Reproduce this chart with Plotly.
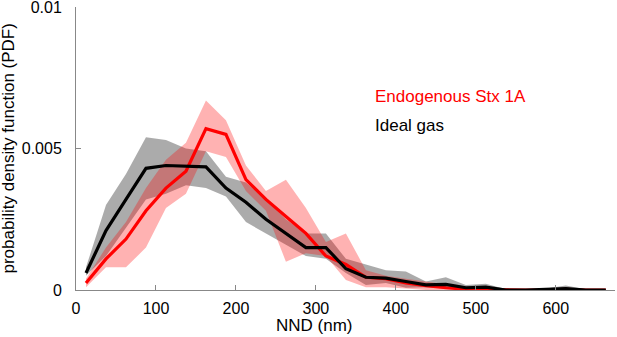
import plotly.graph_objects as go

nnd = [12.5 + 25 * i for i in range(27)]

gas_mean = [0.0006, 0.0021, 0.0032, 0.0043, 0.0044, 0.00437, 0.00435, 0.0036, 0.0031, 0.0025, 0.0020,
            0.0015, 0.0015, 0.00075, 0.00045, 0.00042, 0.0003, 0.00018, 0.0002, 0.00008, 0.0001,
            0.0, 0.0, 0.00002, 0.00005, 0.0, 0.0]
gas_upper = [0.0008, 0.0030, 0.0041, 0.0054, 0.0053, 0.0050, 0.0049, 0.0040, 0.0038, 0.0032, 0.0025,
             0.0020, 0.0020, 0.0011, 0.0009, 0.0007, 0.00065, 0.0003, 0.00045, 0.00018, 0.00022,
             0.00003, 0.00003, 0.00005, 0.00016, 0.00003, 0.00002]
gas_lower = [0.0005, 0.0012, 0.0022, 0.0032, 0.0034, 0.0037, 0.0036, 0.0033, 0.0024, 0.0020, 0.0016,
             0.0012, 0.0011, 0.0006, 0.00018, 0.00025, 0.00008, 0.0001, 0.00005, 0.0, 0.0,
             0.0, 0.0, 0.0, 0.0, 0.0, 0.0]

stx_mean = [0.00025, 0.0011, 0.0018, 0.0028, 0.0036, 0.0042, 0.0057, 0.0055, 0.0039, 0.0032, 0.0026,
            0.0020, 0.0012, 0.0009, 0.00045, 0.0004, 0.00025, 0.00015, 0.00008, 0.00003, 0.00002,
            0.0, 0.0, 0.0, 0.00002, 0.0, 0.0]
stx_upper = [0.0004, 0.0015, 0.0024, 0.0036, 0.0046, 0.0052, 0.0067, 0.0060, 0.0044, 0.0035, 0.0039,
             0.0029, 0.0017, 0.0020, 0.0007, 0.0005, 0.0004, 0.0003, 0.0002, 0.0001, 0.00008,
             0.00002, 0.00002, 0.00002, 0.00006, 0.00001, 0.00001]
stx_lower = [0.0001, 0.0008, 0.0008, 0.0015, 0.0029, 0.0034, 0.0049, 0.0047, 0.0035, 0.0028, 0.0010,
             0.0013, 0.0012, 0.00035, 0.0001, 0.0001, 0.00005, 0.0, 0.0, 0.0, 0.0,
             0.0, 0.0, 0.0, 0.0, 0.0, 0.0]

series_names = ["Endogenous Stx 1A", "Ideal gas"]
x_ticks = [0, 100, 200, 300, 400, 500, 600]
y_ticks = [0, 0.005, 0.01]
y_tick_labels = ["0", "0.005", "0.01"]
x_title = "NND (nm)"
y_title = "probability density function (PDF)"

fig = go.Figure()

# bands
fig.add_trace(go.Scatter(x=nnd + nnd[::-1], y=gas_upper + gas_lower[::-1], fill="toself",
                         fillcolor="rgba(0,0,0,0.33)", line=dict(width=0), mode="lines",
                         hoverinfo="skip", showlegend=False))
fig.add_trace(go.Scatter(x=nnd + nnd[::-1], y=stx_upper + stx_lower[::-1], fill="toself",
                         fillcolor="rgba(255,0,0,0.3)", line=dict(width=0), mode="lines",
                         hoverinfo="skip", showlegend=False))
# lines
fig.add_trace(go.Scatter(x=nnd, y=stx_mean, mode="lines", line=dict(color="#ff0000", width=3.2),
                         name=series_names[0], showlegend=False))
fig.add_trace(go.Scatter(x=nnd, y=gas_mean, mode="lines", line=dict(color="#000000", width=3.2),
                         name=series_names[1], showlegend=False))

fig.update_layout(
    width=617, height=337,
    margin=dict(l=76, r=2, t=7, b=47),
    paper_bgcolor="white", plot_bgcolor="white",
    font=dict(family="Liberation Sans, Arial, sans-serif", size=16, color="black"),
    annotations=[
        dict(x=0.551, y=0.683, xref="paper", yref="paper", text=series_names[0], showarrow=False,
             xanchor="left", yanchor="middle", font=dict(color="#ff0000", size=17)),
        dict(x=0.551, y=0.581, xref="paper", yref="paper", text=series_names[1], showarrow=False,
             xanchor="left", yanchor="middle", font=dict(color="#000000", size=17)),
        dict(x=0.4434, y=-0.127, xref="paper", yref="paper", text=x_title, showarrow=False,
             xanchor="center", yanchor="middle", font=dict(size=17)),
        dict(x=0, y=0.5, xref="paper", yref="paper", text=y_title, showarrow=False,
             xanchor="center", yanchor="middle", textangle=-90, xshift=-68, font=dict(size=17)),
    ],
    xaxis=dict(range=[0, 674], tickvals=x_ticks, ticks="inside", ticklen=5, tickcolor="#888",
               showline=True, linecolor="#888", linewidth=1, showgrid=False, zeroline=False,
               ticklabelstandoff=4, tickfont=dict(size=16), automargin=False),
    yaxis=dict(range=[0, 0.0100001], tickvals=y_ticks, ticktext=y_tick_labels, ticks="inside", ticklen=5,
               tickcolor="#888", showline=True, linecolor="#888", linewidth=1, showgrid=False,
               zeroline=False, ticklabelstandoff=10, ticklabeloverflow="allow",
               tickfont=dict(size=16), automargin=False),
)

fig.write_html("out.html", config={"displayModeBar": False},
               post_script="document.body.style.margin='0';")
